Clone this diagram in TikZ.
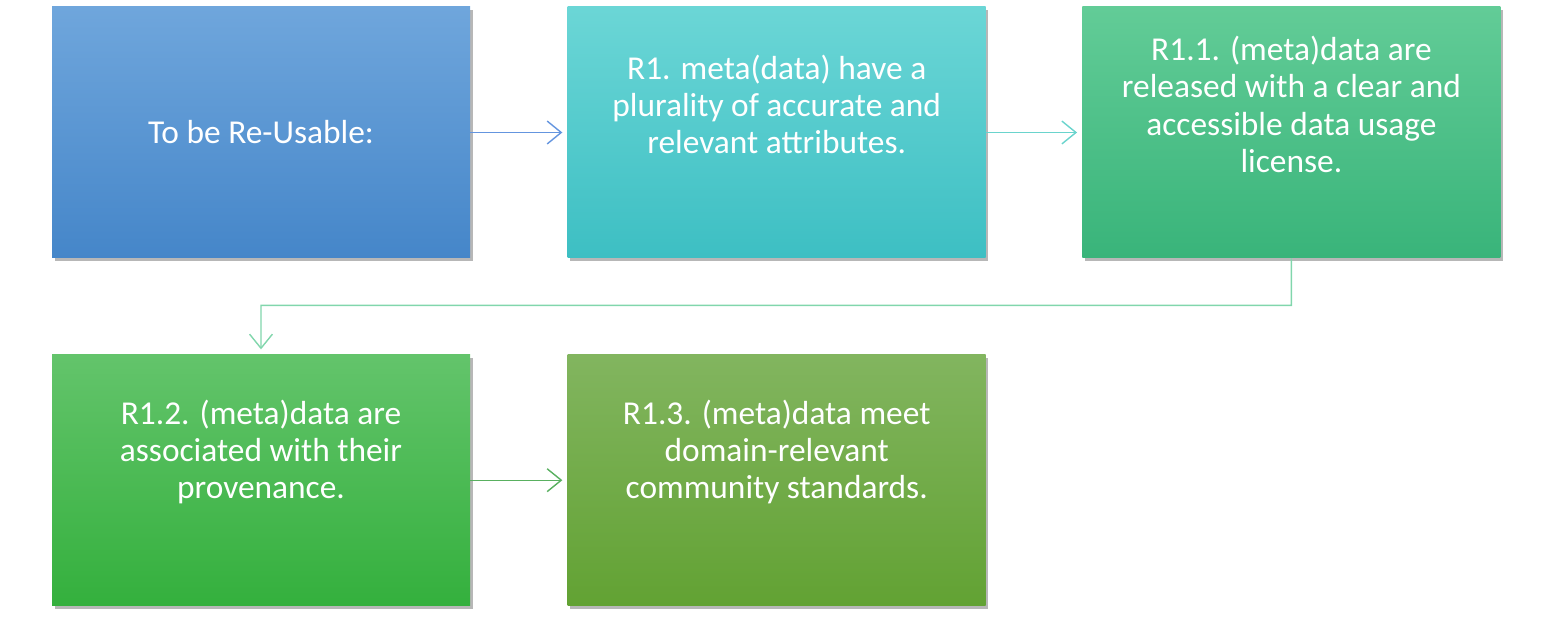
\documentclass[tikz,border=0pt]{standalone}
\usepackage{fontspec}
\setmainfont{Carlito}
\usetikzlibrary{positioning,calc,shadows,arrows.meta}
\definecolor{reA1}{HTML}{6FA6DC}\definecolor{reA2}{HTML}{4586C9}
\definecolor{reB1}{HTML}{6BD6D6}\definecolor{reB2}{HTML}{3DBFC3}
\definecolor{reC1}{HTML}{62CC97}\definecolor{reC2}{HTML}{39B47A}
\definecolor{reD1}{HTML}{63C46B}\definecolor{reD2}{HTML}{34B03D}
\definecolor{reE1}{HTML}{82B55F}\definecolor{reE2}{HTML}{62A233}
\tikzset{rbox/.style args={#1/#2}{minimum width=8.36cm, minimum height=5.02cm, inner sep=0pt, top color=#1, bottom color=#2, draw=none,
	drop shadow={shadow xshift=0.05cm, shadow yshift=-0.07cm, opacity=0.4, fill=black!70}}}
\tikzset{rtxt/.style={text=white, align=center, inner sep=0pt, font=\fontsize{19}{21.2}\selectfont}}
\tikzset{rarr/.style={draw=#1, line width=0.8pt, -{Straight Barb[length=8pt, width=13pt, line width=0.8pt]}, shorten >=0.1cm}}

\begin{document}
\begin{tikzpicture}
			\useasboundingbox (0,0) rectangle (31.08,-12.36);
			\node[rbox=reA1/reA2] (A) at (5.22,-2.65) {};
			\node[rbox=reB1/reB2, right=1.94 of A] (B) {};
			\node[rbox=reC1/reC2, right=1.92 of B] (C) {};
			\node[rbox=reD1/reD2, below=1.92 of A] (D) {};
			\node[rbox=reE1/reE2, right=1.94 of D] (E) {};
			%
			\node[rtxt] (tA) at (A.center) {To be Re-Usable:};
			\node[rtxt] (tB) at ([yshift=0.56cm]B.center)
				{R1. meta(data) have a\\plurality of accurate and\\relevant attributes.};
			\node[rtxt] (tC) at ([yshift=0.56cm]C.center)
				{R1.1. (meta)data are\\released with a clear and\\accessible data usage\\license.};
			\node[rtxt] (tD) at ([yshift=0.56cm]D.center)
				{R1.2. (meta)data are\\associated with their\\provenance.};
			\node[rtxt] (tE) at ([yshift=0.56cm]E.center)
				{R1.3. (meta)data meet\\domain-relevant\\community standards.};
			%
			\draw[rarr={reA1!90!blue}] (A) -- (B);
			\draw[rarr={reB1!85!reC1}] (B) -- (C);
			\coordinate (k1) at ($(C.south)+(0,-0.94)$);
			\coordinate (k2) at ($(D.north)+(0,0.98)$);
			\draw[rarr={reC1!80!white}] (C.south) -- (k1) -- (k2) -- (D.north);
			\draw[rarr={reD1!90!black}] (D) -- (E);
		\end{tikzpicture}
\end{document}
